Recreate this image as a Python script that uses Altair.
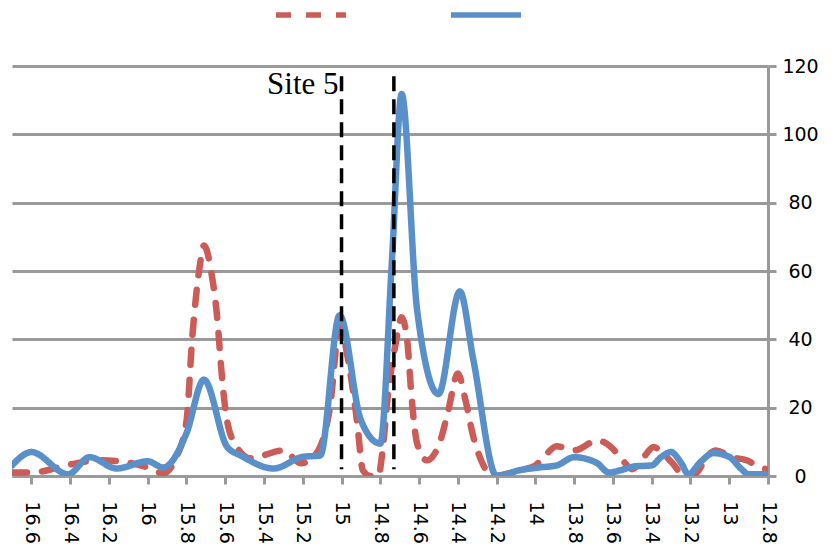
import altair as alt
import pandas as pd

# Tick labels
x_ticks = [16.6, 16.4, 16.2, 16.0, 15.8, 15.6, 15.4, 15.2, 15.0, 14.8,
           14.6, 14.4, 14.2, 14.0, 13.8, 13.6, 13.4, 13.2, 13.0, 12.8]
y_ticks = [0, 20, 40, 60, 80, 100, 120]

series_names = ["Series 1", "Series 2"]

# Series 1 (red, dashed)
red_x = [16.70, 16.60, 16.40, 16.25, 16.16, 16.00, 15.92, 15.86, 15.80, 15.77,
         15.73, 15.71, 15.67, 15.64, 15.62, 15.59, 15.54, 15.47, 15.30, 15.21,
         15.13, 15.06, 15.01, 14.96, 14.92, 14.89, 14.85, 14.81, 14.79, 14.76,
         14.72, 14.69, 14.66, 14.64, 14.61, 14.56, 14.49, 14.45, 14.40, 14.36,
         14.32, 14.28, 14.22, 14.08, 14.00, 13.95, 13.89, 13.80, 13.68, 13.61,
         13.55, 13.50, 13.44, 13.39, 13.35, 13.29, 13.24, 13.18, 13.11, 13.07,
         12.98, 12.91, 12.86, 12.81]
red_y = [1.0, 1.0, 3.4, 4.6, 4.4, 2.5, 0.8, 4.6, 16.0, 40.6,
         62.0, 67.5, 59.0, 45.5, 31.0, 16.0, 8.5, 5.2, 7.5, 3.7,
         6.6, 20.0, 43.6, 32.0, 16.0, 1.7, 0.0, 0.0, 6.6, 24.0,
         39.0, 46.5, 39.0, 24.0, 9.5, 4.6, 10.4, 19.0, 30.0, 22.0,
         11.4, 4.6, 0.0, 1.7, 3.1, 6.0, 8.7, 7.5, 10.4, 8.5,
         4.6, 2.0, 5.6, 8.5, 7.0, 3.6, 0.5, 0.5, 6.0, 7.5,
         5.4, 4.6, 3.1, 2.0]

# Series 2 (blue, solid)
blue_x = [16.70, 16.60, 16.41, 16.30, 16.16, 16.00, 15.92, 15.80, 15.71, 15.59,
          15.52, 15.35, 15.20, 15.11, 15.01, 14.90, 14.80, 14.74, 14.69, 14.61,
          14.50, 14.39, 14.32, 14.20, 14.08, 13.98, 13.89, 13.80, 13.73, 13.68,
          13.62, 13.56, 13.49, 13.40, 13.35, 13.30, 13.25, 13.21, 13.15, 13.08,
          13.00, 12.94, 12.90, 12.81]
blue_y = [3.1, 7.0, 0.5, 5.5, 2.2, 4.3, 2.5, 12.5, 28.2, 8.5,
          6.0, 2.2, 5.6, 6.0, 47.0, 16.3, 9.5, 63.0, 111.8, 48.5,
          24.0, 54.0, 34.0, 0.0, 1.7, 2.5, 3.1, 5.5, 4.9, 3.7,
          1.0, 1.7, 2.8, 3.1, 5.6, 7.0, 4.0, 0.5, 4.0, 6.7,
          5.6, 2.2, 0.5, 0.5]

# Marker lines and label
site_x = [15.0, 14.73]
site_top = [117, 117]
site_bottom = [2, 2]
site_label = ["Site 5"]
site_label_x = [15.0]
site_label_y = [111.8]

df = pd.concat([
    pd.DataFrame({"x": red_x, "y": red_y, "series": series_names[0]}),
    pd.DataFrame({"x": blue_x, "y": blue_y, "series": series_names[1]}),
], ignore_index=True)

grey = "#9a9a9a"

legend = alt.Legend(
    orient="none", legendX=261, legendY=-89, direction="horizontal",
    title=None, labelExpr="''", symbolType="stroke", symbolSize=4900,
    symbolStrokeWidth=5.5, columnPadding=83, labelOffset=4, padding=0,
)

x_axis = alt.Axis(
    values=x_ticks, labelAngle=90, title=None, grid=False,
    labelFont="DejaVu Sans", labelFontSize=19, labelColor="black",
    labelPadding=17, labelFlush=False, labelOverlap=False,
    domainColor=grey, domainWidth=3, tickColor=grey, tickWidth=3, tickSize=8,
    labelExpr="format(datum.value, '~g')",
)
y_axis = alt.Axis(
    orient="right", values=y_ticks, title=None, grid=True,
    gridColor=grey, gridWidth=3,
    labelFont="DejaVu Sans", labelFontSize=19, labelColor="black",
    labelAlign="center", labelPadding=24, labelBaseline="middle",
    domainColor=grey, domainWidth=3, tickColor=grey, tickWidth=3, tickSize=8,
    labelFlush=False, labelOverlap=False,
)
x_scale = alt.Scale(domain=[12.8, 16.7], reverse=True, nice=False, zero=False)
y_scale = alt.Scale(domain=[0, 120], nice=False)

lines = alt.Chart(df).mark_line(
    interpolate="monotone", strokeWidth=6.5, strokeCap="round", clip=True
).encode(
    x=alt.X("x:Q", scale=x_scale, axis=x_axis),
    y=alt.Y("y:Q", scale=y_scale, axis=y_axis),
    color=alt.Color("series:N", scale=alt.Scale(domain=series_names, range=["#CB5C57", "#5A90C9"]), legend=legend),
    strokeDash=alt.StrokeDash("series:N", scale=alt.Scale(domain=series_names, range=[[15, 15], [1, 0]]), legend=legend),
)

rules = alt.Chart(pd.DataFrame({"x": site_x, "top": site_top, "bottom": site_bottom})).mark_rule(
    color="black", strokeWidth=3.5, strokeDash=[15, 8]
).encode(
    x=alt.X("x:Q", scale=x_scale, axis=x_axis),
    y=alt.Y("top:Q", scale=y_scale, axis=y_axis),
    y2="bottom:Q",
)

text = alt.Chart(pd.DataFrame({"x": site_label_x, "y": site_label_y, "t": site_label})).mark_text(
    align="right", baseline="alphabetic", dx=-3, font="Liberation Serif", fontSize=31, color="black"
).encode(
    x=alt.X("x:Q", scale=x_scale, axis=x_axis),
    y=alt.Y("y:Q", scale=y_scale, axis=y_axis),
    text="t:N",
)

chart = alt.layer(lines, rules, text).properties(
    width=756, height=410,
    autosize=alt.AutoSizeParams(type="none"),
    padding={"left": 4, "top": 58, "right": 61, "bottom": 68},
).configure_view(stroke=None).configure_axisX(labelOverlap=False, labelSeparation=0)

chart.save("out.html", embed_options={"renderer": "svg", "actions": False})
